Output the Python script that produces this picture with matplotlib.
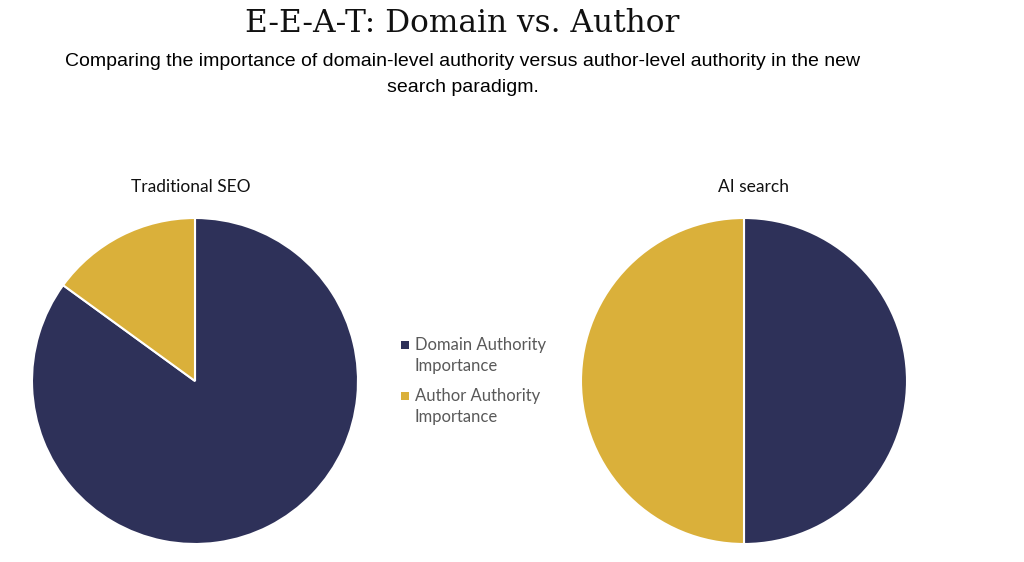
import matplotlib
matplotlib.use("Agg")
import matplotlib.pyplot as plt
from matplotlib.patches import Rectangle

categories = ["Domain Authority\nImportance", "Author Authority\nImportance"]
traditional_seo = [85, 15]
ai_search = [50, 50]
chart_titles = ["Traditional SEO", "AI search"]
colors = ["#2E3159", "#DAB03A"]

W, H = 1024, 562
fig = plt.figure(figsize=(W / 100, H / 100), dpi=100)
fig.patch.set_facecolor("white")

def axes_box(cx, cy, r):
    return [(cx - r) / W, (H - cy - r) / H, 2 * r / W, 2 * r / H]

for (cx, vals, title, tx) in [(195, traditional_seo, chart_titles[0], 191),
                              (744, ai_search, chart_titles[1], 754)]:
    ax = fig.add_axes(axes_box(cx, 381, 163))
    ax.pie(vals, colors=colors, startangle=90, counterclock=False,
           wedgeprops=dict(edgecolor="white", linewidth=1.5))
    ax.set_xlim(-1, 1)
    ax.set_ylim(-1, 1)
    ax.set_aspect("equal")
    ax.axis("off")
    fig.text(tx / W, 1 - 187 / H, title, ha="center", va="center",
             fontsize=12.5, family=["Lato", "DejaVu Sans"], color="#111111")

fig.text(462 / W, 1 - 24 / H, "E-E-A-T: Domain vs. Author", ha="center", va="center",
         fontsize=22.5, family=["DejaVu Serif"], color="#111111")
fig.text(463 / W, 1 - 62 / H,
         "Comparing the importance of domain-level authority versus author-level authority in the new",
         ha="center", va="center", fontsize=14.0, family=["Liberation Sans", "DejaVu Sans"], color="#000000")
fig.text(463 / W, 1 - 87 / H, "search paradigm.",
         ha="center", va="center", fontsize=14.0, family=["Liberation Sans", "DejaVu Sans"], color="#000000")

# legend (manual, marker aligned with first line of each label)
for i, (lab, c) in enumerate(zip(categories, colors)):
    y0 = 345 + 51 * i
    fig.patches.append(Rectangle(((401) / W, 1 - (y0 + 4) / H), 8 / W, 8 / H,
                                 transform=fig.transFigure, facecolor=c,
                                 edgecolor="none", figure=fig))
    fig.text(415 / W, 1 - (y0 + 10.5) / H, lab, ha="left", va="center",
             fontsize=12, family=["Lato", "DejaVu Sans"], color="#595959",
             linespacing=1.4)

fig.savefig("out.png", dpi=100, facecolor="white")
